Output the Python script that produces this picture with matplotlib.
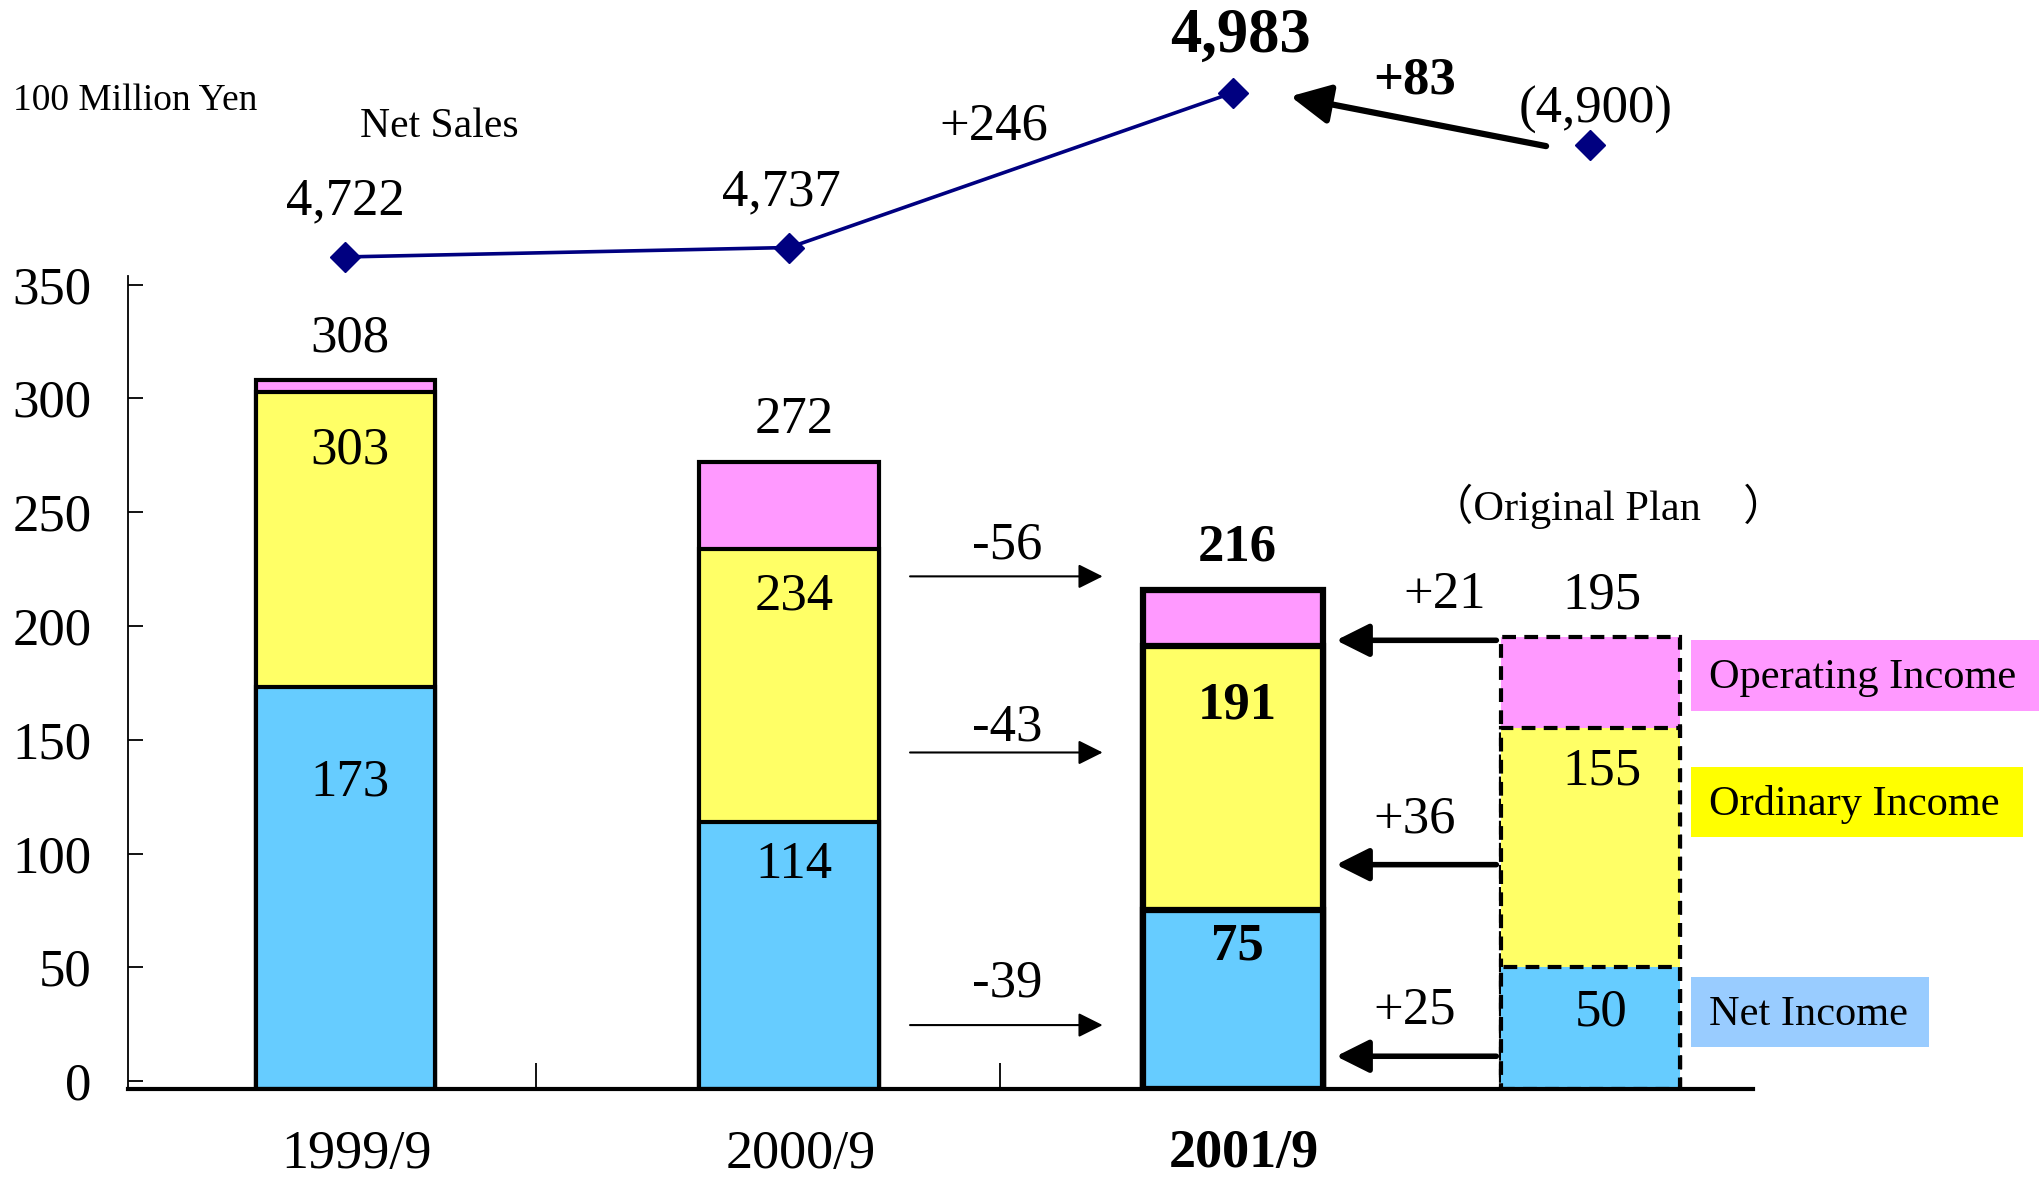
import matplotlib
matplotlib.use('Agg')
import matplotlib.pyplot as plt
from matplotlib.patches import Rectangle

plt.rcParams['font.family'] = ['Liberation Serif', 'Noto Sans CJK JP']

# data (100 million yen)
periods = ['1999/9', '2000/9', '2001/9']
operating_income = [308, 272, 216]
ordinary_income = [303, 234, 191]
net_income = [173, 114, 75]
plan_values = [195, 155, 50]          # operating, ordinary, net (original plan)
net_sales = [4722, 4737, 4983]
net_sales_plan = 4900
change_vs_prev = [-56, -43, -39]      # 2001/9 vs 2000/9
change_vs_plan = [21, 36, 25]         # 2001/9 vs original plan
sales_change_prev = 246
sales_change_plan = 83

pink = '#FF99FF'
yellow = '#FFFF66'
blue = '#66CCFF'

# layout
xpos = [0, 1, 2]
plan_x = 2.805
bar_w = 0.405
ybot = -3.4

fig = plt.figure(figsize=(20.44, 11.80), dpi=100)
ax = fig.add_axes([0.0625, 0.0773, 0.7953, 0.6884])
ax.set_xlim(-0.4905, 3.172)
ax.set_ylim(ybot, 353.6)

# overlapping bars: operating behind, then ordinary, then net
for i in range(3):
    lw = 4.5 if i == 2 else 3
    for vals, col in [(operating_income, pink), (ordinary_income, yellow), (net_income, blue)]:
        ax.bar(xpos[i], vals[i] - ybot, bottom=ybot, width=bar_w, color=col,
               edgecolor='black', linewidth=lw)

for v, col in zip(plan_values, [pink, yellow, blue]):
    ax.bar(plan_x, v - ybot, bottom=ybot, width=bar_w, color=col,
           edgecolor='black', linewidth=3, linestyle=(0, (3.3, 2)))

# bar labels
ord_off = [-26, -21, -26]
net_off = [-42, -19, -16]
for i in range(3):
    fw = 'bold' if i == 2 else 'normal'
    ax.text(xpos[i] + 0.01, operating_income[i] + 18.5, f'{operating_income[i]}',
            ha='center', va='center', fontsize=38, fontweight=fw)
    ax.text(xpos[i] + 0.01, ordinary_income[i] + ord_off[i], f'{ordinary_income[i]}',
            ha='center', va='center', fontsize=38, fontweight=fw)
    ax.text(xpos[i] + 0.01, net_income[i] + net_off[i], f'{net_income[i]}',
            ha='center', va='center', fontsize=38, fontweight=fw)
for v, off in zip(plan_values, [18.5, -19, -20]):
    ax.text(plan_x + 0.025, v + off, f'{v}', ha='center', va='center', fontsize=38)

# change arrows 2000/9 -> 2001/9
thin_y = [221.8, 144.4, 24.6]
thin_lab_y = [235.5, 155.3, 43]
for y, ly, v in zip(thin_y, thin_lab_y, change_vs_prev):
    ax.annotate('', xy=(1.706, y), xytext=(1.272, y),
                arrowprops=dict(arrowstyle='-|>,head_length=1,head_width=0.5',
                                mutation_scale=15, lw=1.5, color='black',
                                shrinkA=0, shrinkB=0))
    ax.text(1.492, ly, f'{v:+d}', ha='center', va='center', fontsize=38)

# change arrows plan -> 2001/9
thick_y = [193.7, 95.1, 10.9]
thick_lab_x = [2.476, 2.408, 2.408]
for y, v, lx in zip(thick_y, change_vs_plan, thick_lab_x):
    ax.annotate('', xy=(2.232, y), xytext=(2.593, y),
                arrowprops=dict(arrowstyle='-|>,head_length=1,head_width=0.5',
                                mutation_scale=20, lw=4, color='black',
                                shrinkA=0, shrinkB=0))
    ax.text(lx, y + 20, f'{v:+d}', ha='center', va='center', fontsize=38)

# axes styling
for s in ['top', 'right']:
    ax.spines[s].set_visible(False)
ax.spines['left'].set_linewidth(1.3)
ax.spines['bottom'].set_linewidth(3)
ax.set_yticks(range(0, 351, 50))
ax.tick_params(axis='y', direction='in', length=11, width=1.3, pad=26, labelsize=38)
ax.set_xticks([x + 0.025 for x in xpos])
ax.set_xticklabels(periods)
ax.get_xticklabels()[2].set_fontweight('bold')
ax.tick_params(axis='x', which='major', length=0, pad=29, labelsize=39)
ax.set_xticks([0.429, 1.474], minor=True)
ax.tick_params(axis='x', which='minor', direction='in', length=19, width=1.3)

# net sales line
ax2 = fig.add_axes([0.0625, 0.7657, 0.7953, 0.2012])
ax2.set_xlim(-0.4905, 3.172)
ax2.set_ylim(4691, 5068)
ax2.axis('off')
ax2.plot(xpos, net_sales, color='#000080', lw=2.6, marker='D', markersize=15, clip_on=False)
ax2.plot([plan_x], [net_sales_plan], color='#000080', marker='D', markersize=15,
         linestyle='none', clip_on=False)

sales_dx = [0, -6, 5]
for i, v in enumerate(net_sales):
    big = i == 2
    ax2.annotate(f'{v:,}', xy=(xpos[i], v), xytext=(sales_dx[i], 40),
                 textcoords='offset points', ha='center', va='center',
                 fontsize=45 if big else 38, fontweight='bold' if big else 'normal')
ax2.annotate(f'({net_sales_plan:,})', xy=(plan_x, net_sales_plan), xytext=(4, 25),
             textcoords='offset points', ha='center', va='center', fontsize=38)

ax2.annotate('', xy=(2.129, 4977), xytext=(2.705, 4898),
             arrowprops=dict(arrowstyle='-|>,head_length=1,head_width=0.5',
                             mutation_scale=24, lw=4.5, color='black',
                             shrinkA=0, shrinkB=0))
ax2.text(2.408, 5001.5, f'+{sales_change_plan}', ha='center', va='center',
         fontsize=38, fontweight='bold')
ax2.text(1.46, 4929, f'+{sales_change_prev}', ha='center', va='center', fontsize=38)
ax2.text(0.212, 4929, 'Net Sales', ha='center', va='center', fontsize=30)

fig.text(0.0064, 0.915, '100 Million Yen', ha='left', va='center', fontsize=27)
fig.text(0.787, 0.571, '（Original Plan　）', ha='center', va='center', fontsize=30.5)

# legend boxes
legend_items = [('Operating Income', '#FF99FF', 0.3978, 0.1703),
                ('Ordinary Income', '#FFFF00', 0.2906, 0.1626),
                ('Net Income', '#99CCFF', 0.1127, 0.1167)]
for label, col, y0, w in legend_items:
    fig.add_artist(Rectangle((0.8272, y0), w, 0.0597, transform=fig.transFigure,
                             facecolor=col, edgecolor='none'))
    fig.text(0.8361, y0 + 0.0275, label, ha='left', va='center', fontsize=30.5)

fig.savefig('out.png', dpi=100)
